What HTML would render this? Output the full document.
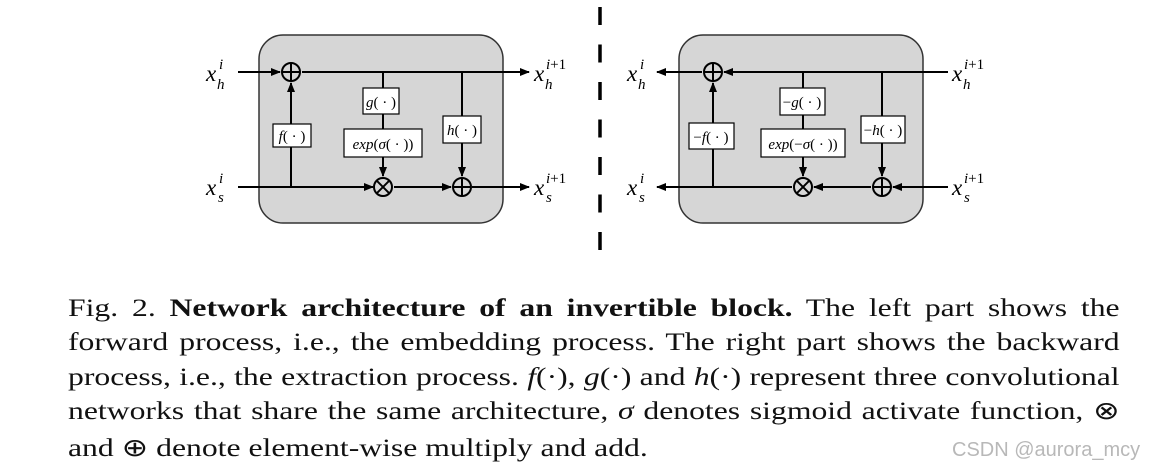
<!DOCTYPE html>
<html><head><meta charset="utf-8"><style>
html,body{margin:0;padding:0;background:#fff;width:1152px;height:472px;overflow:hidden;position:relative}
.cap{position:absolute;left:68px;width:830px;font-family:"Liberation Serif",serif;font-size:25px;color:#111;line-height:1;white-space:nowrap;transform:scaleX(1.267);transform-origin:0 0}
.j{text-align:justify;text-align-last:justify;white-space:normal}
.wm{position:absolute;left:952px;top:439px;font-family:"Liberation Sans",sans-serif;font-size:20px;color:#b8b8b8}
</style></head><body>
<svg width="1152" height="290" style="position:absolute;left:0;top:0" font-family="Liberation Serif, serif">
<defs>
<marker id="a" markerWidth="10" markerHeight="10" refX="9" refY="5" orient="auto" markerUnits="userSpaceOnUse">
<path d="M0,1 L10,5 L0,9 z" fill="#000"/></marker>
</defs>
<g stroke="#000" stroke-width="2" fill="none">
<rect x="259" y="35" width="244" height="188" rx="24" fill="#d6d6d6" stroke="#333" stroke-width="1.5"/>
<rect x="679" y="35" width="244" height="188" rx="24" fill="#d6d6d6" stroke="#333" stroke-width="1.5"/>
<line x1="238" y1="72" x2="280" y2="72" marker-end="url(#a)"/>
<line x1="302" y1="72" x2="529" y2="72" marker-end="url(#a)"/>
<line x1="238" y1="187" x2="373" y2="187" marker-end="url(#a)"/>
<line x1="394" y1="187" x2="451" y2="187" marker-end="url(#a)"/>
<line x1="472" y1="187" x2="529" y2="187" marker-end="url(#a)"/>
<line x1="291" y1="187" x2="291" y2="83" marker-end="url(#a)"/>
<line x1="383" y1="72" x2="383" y2="176" marker-end="url(#a)"/>
<line x1="462" y1="72" x2="462" y2="176" marker-end="url(#a)"/>
<line x1="948" y1="72" x2="724" y2="72" marker-end="url(#a)"/>
<line x1="702" y1="72" x2="657" y2="72" marker-end="url(#a)"/>
<line x1="948" y1="187" x2="893" y2="187" marker-end="url(#a)"/>
<line x1="871" y1="187" x2="814" y2="187" marker-end="url(#a)"/>
<line x1="792" y1="187" x2="657" y2="187" marker-end="url(#a)"/>
<line x1="713" y1="187" x2="713" y2="83" marker-end="url(#a)"/>
<line x1="803" y1="72" x2="803" y2="176" marker-end="url(#a)"/>
<line x1="882" y1="72" x2="882" y2="176" marker-end="url(#a)"/>
</g>
<g stroke="#000" stroke-width="2" fill="#d6d6d6">
<circle cx="291" cy="72" r="9"/><path d="M282,72H300M291,63V81"/>
<circle cx="462" cy="187" r="9"/><path d="M453,187H471M462,178V196"/>
<circle cx="383" cy="187" r="9"/><path d="M376.6,180.6L389.4,193.4M389.4,180.6L376.6,193.4"/>
<circle cx="713" cy="72" r="9"/><path d="M704,72H722M713,63V81"/>
<circle cx="882" cy="187" r="9"/><path d="M873,187H891M882,178V196"/>
<circle cx="803" cy="187" r="9"/><path d="M796.6,180.6L809.4,193.4M809.4,180.6L796.6,193.4"/>
</g>
<g stroke="#000" stroke-width="1.2" fill="#fff">
<rect x="363" y="88" width="36" height="26"/>
<rect x="344" y="129" width="78" height="28"/>
<rect x="273" y="124" width="38" height="23"/>
<rect x="443" y="116" width="38" height="27"/>
<rect x="780" y="88" width="45" height="27"/>
<rect x="761" y="129" width="84" height="28"/>
<rect x="689" y="123" width="45" height="26"/>
<rect x="861" y="116" width="44" height="27"/>
</g>
<g font-size="15" fill="#000" text-anchor="middle">
<text x="381" y="107"><tspan font-style="italic">g</tspan>( · )</text>
<text x="383" y="149"><tspan font-style="italic">exp</tspan>(<tspan font-style="italic">σ</tspan>( · ))</text>
<text x="292" y="141"><tspan font-style="italic">f</tspan>( · )</text>
<text x="462" y="135"><tspan font-style="italic">h</tspan>( · )</text>
<text x="802" y="107">−<tspan font-style="italic">g</tspan>( · )</text>
<text x="803" y="149"><tspan font-style="italic">exp</tspan>(−<tspan font-style="italic">σ</tspan>( · ))</text>
<text x="711" y="142">−<tspan font-style="italic">f</tspan>( · )</text>
<text x="883" y="135">−<tspan font-style="italic">h</tspan>( · )</text>
</g>
<g font-size="23" fill="#000" font-style="italic">
<text x="206" y="81">x</text><text x="217" y="89" font-size="15">h</text><text x="219" y="69" font-size="15">i</text>
<text x="206" y="195">x</text><text x="218" y="202" font-size="15">s</text><text x="219" y="183" font-size="15">i</text>
<text x="534" y="81">x</text><text x="545" y="89" font-size="15">h</text><text x="546" y="69" font-size="15"><tspan>i</tspan><tspan font-style="normal">+1</tspan></text>
<text x="534" y="195">x</text><text x="546" y="202" font-size="15">s</text><text x="546" y="183" font-size="15"><tspan>i</tspan><tspan font-style="normal">+1</tspan></text>
<text x="627" y="81">x</text><text x="638" y="89" font-size="15">h</text><text x="640" y="69" font-size="15">i</text>
<text x="627" y="195">x</text><text x="639" y="202" font-size="15">s</text><text x="640" y="183" font-size="15">i</text>
<text x="952" y="81">x</text><text x="963" y="89" font-size="15">h</text><text x="964" y="69" font-size="15"><tspan>i</tspan><tspan font-style="normal">+1</tspan></text>
<text x="952" y="195">x</text><text x="964" y="202" font-size="15">s</text><text x="964" y="183" font-size="15"><tspan>i</tspan><tspan font-style="normal">+1</tspan></text>
</g>
<line x1="600" y1="7" x2="600" y2="252" stroke="#000" stroke-width="3.5" stroke-dasharray="18 19.5"/>
</svg>
<div class="cap j" style="top:296px">Fig. 2. <b>Network architecture of an invertible block.</b> The left part shows the</div>
<div class="cap j" style="top:330px">forward process, i.e., the embedding process. The right part shows the backward</div>
<div class="cap j" style="top:365px">process, i.e., the extraction process. <i>f</i>(·), <i>g</i>(·) and <i>h</i>(·) represent three convolutional</div>
<div class="cap j" style="top:399px">networks that share the same architecture, <i>σ</i> denotes sigmoid activate function, ⊗</div>
<div class="cap" style="top:436px">and ⊕ denote element-wise multiply and add.</div>
<div class="wm">CSDN @aurora_mcy</div>
</body></html>
